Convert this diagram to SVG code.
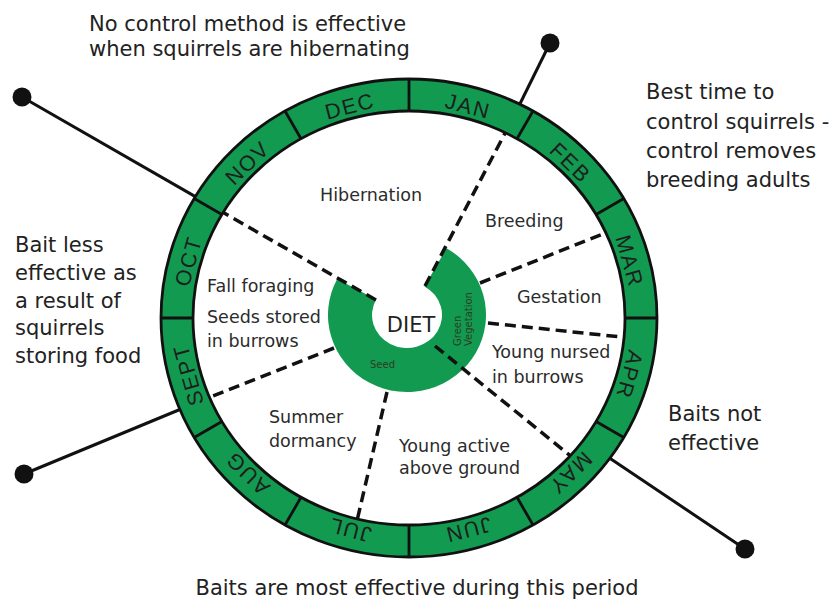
<svg xmlns="http://www.w3.org/2000/svg" width="836" height="602" viewBox="0 0 836 602">
<style>
.ring{fill:#119a50;stroke:#111;stroke-width:2.8;fill-rule:evenodd}
.div{stroke:#111;stroke-width:2.8}
.mon{font-family:"Liberation Sans","DejaVu Sans",sans-serif;font-size:21.5px;fill:#1e1e1e;text-anchor:middle;dominant-baseline:central;letter-spacing:1.8px}
.dash{stroke:#111;stroke-width:3.5;stroke-dasharray:11 6;fill:none}
.pin{stroke:#111;stroke-width:3;fill:none}
.dot{fill:#111}
.lab{font-family:"DejaVu Sans","Liberation Sans",sans-serif;font-size:17.5px;fill:#2b2b2b}
.note{font-family:"DejaVu Sans","Liberation Sans",sans-serif;font-size:21px;fill:#222}
.small{font-family:"DejaVu Sans","Liberation Sans",sans-serif;font-size:10px;fill:#2d3d20}
</style>
<rect width="836" height="602" fill="#fff"/>

<g id="diet">
<path d="M446.5,248.3 A79,77 0 1 1 337.2,278.9 L376.1,299.5 A35,33 0 1 0 424.5,286.4 Z" fill="#119a50"/>
<text class="small" x="370" y="368">Seed</text>
<text class="small" transform="translate(461,346) rotate(-90)">Green</text>
<text class="small" transform="translate(472,346) rotate(-90)">Vegetation</text>
<text class="note" x="411" y="332" text-anchor="middle">DIET</text>
</g>

<g id="connectors">
<path class="dash" d="M376,300 L209.3,204.6"/>
<path class="pin" d="M209.3,204.6 L22,97"/>
<path class="dash" d="M425,286 L512.7,118.5"/>
<path class="pin" d="M512.7,118.5 L550,43"/>
<path class="dash" d="M480,283 L619,227.5"/>
<path class="dash" d="M488,323 L640,339"/>
<path class="dash" d="M435,346 L582.6,465.7"/>
<path class="pin" d="M602,453 L745,549"/>
<path class="dash" d="M387,392 L354.5,531.5"/>
<path class="dash" d="M334,348 L198,402"/>
<path class="pin" d="M198,402 L24,474"/>
<circle class="dot" cx="22" cy="97" r="9.5"/>
<circle class="dot" cx="550" cy="43" r="9.5"/>
<circle class="dot" cx="745" cy="549" r="9.5"/>
<circle class="dot" cx="24" cy="474" r="9.5"/>
</g>

<g id="ring">
<path class="ring" d="M161,318 A248,239 0 1 1 657,318 A248,239 0 1 1 161,318 Z M193,318 A216,207 0 1 0 625,318 A216,207 0 1 0 193,318 Z"/>
<path class="div" d="M409,111 L409,79 M517,138.7 L533,111 M596.1,214.5 L623.8,198.5 M625,318 L657,318 M596.1,421.5 L623.8,437.5 M517,497.3 L533,525 M409,525 L409,557 M301,497.3 L285,525 M221.9,421.5 L194.2,437.5 M193,318 L161,318 M221.9,214.5 L194.2,198.5 M301,138.7 L285,111"/>
<text class="mon" transform="translate(350,106.5) rotate(-14.5)">DEC</text>
<text class="mon" transform="translate(468,106.5) rotate(14.5)">JAN</text>
<text class="mon" transform="translate(570.2,163.1) rotate(44)">FEB</text>
<text class="mon" transform="translate(629.2,261.3) rotate(74.5)">MAR</text>
<text class="mon" transform="translate(629.2,374.7) rotate(105.5)">APR</text>
<text class="mon" transform="translate(570.2,472.9) rotate(136)">MAY</text>
<text class="mon" transform="translate(468,529.5) rotate(165.5)">JUN</text>
<text class="mon" transform="translate(350,529.5) rotate(194.5)">JUL</text>
<text class="mon" transform="translate(247.8,472.9) rotate(224)">AUG</text>
<text class="mon" transform="translate(188.8,374.7) rotate(254.5)">SEPT</text>
<text class="mon" transform="translate(188.8,261.3) rotate(285.5)">OCT</text>
<text class="mon" transform="translate(247.8,163.1) rotate(316)">NOV</text>
</g>

<g id="phases">
<text class="lab" x="320" y="201">Hibernation</text>
<text class="lab" x="485" y="227">Breeding</text>
<text class="lab" x="517" y="303">Gestation</text>
<text class="lab" x="492" y="358">Young nursed</text>
<text class="lab" x="492" y="383">in burrows</text>
<text class="lab" x="207" y="292">Fall foraging</text>
<text class="lab" x="207" y="323">Seeds stored</text>
<text class="lab" x="207" y="347">in burrows</text>
<text class="lab" x="269" y="423">Summer</text>
<text class="lab" x="269" y="447">dormancy</text>
<text class="lab" x="399" y="452">Young active</text>
<text class="lab" x="399" y="474">above ground</text>
</g>

<g id="note-top">
<text class="note" x="89" y="31">No control method is effective</text>
<text class="note" x="89" y="56">when squirrels are hibernating</text>
</g>
<g id="note-right">
<text class="note" x="646" y="99">Best time to</text>
<text class="note" x="646" y="129">control squirrels -</text>
<text class="note" x="646" y="158">control removes</text>
<text class="note" x="646" y="187">breeding adults</text>
</g>
<g id="note-left">
<text class="note" x="15" y="252">Bait less</text>
<text class="note" x="15" y="280">effective as</text>
<text class="note" x="15" y="308">a result of</text>
<text class="note" x="15" y="335">squirrels</text>
<text class="note" x="15" y="363">storing food</text>
</g>
<g id="note-lower-right">
<text class="note" x="668" y="421">Baits not</text>
<text class="note" x="668" y="450">effective</text>
</g>
<g id="note-bottom">
<text class="note" x="417" y="595" text-anchor="middle">Baits are most effective during this period</text>
</g>
</svg>
